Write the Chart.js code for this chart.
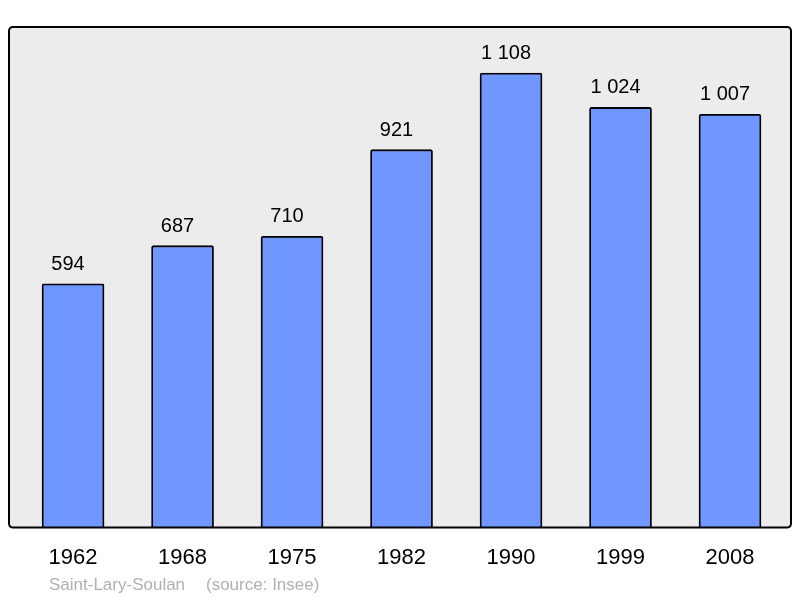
<!DOCTYPE html>
<html>
<head>
<meta charset="utf-8">
<script src="https://cdn.jsdelivr.net/npm/chart.js@4"></script>
<style>
  html, body { margin: 0; padding: 0; background: #fff; }
  #wrap { width: 800px; height: 598px; }
</style>
</head>
<body>
<div id="wrap"><canvas id="popChart" width="800" height="598"></canvas></div>
<script>
const years = ["1962", "1968", "1975", "1982", "1990", "1999", "2008"];
const population = [594, 687, 710, 921, 1108, 1024, 1007];
const commune = "Saint-Lary-Soulan";
const source = "(source: Insee)";

const fmt = (v) => String(v).replace(/\B(?=(\d{3})+(?!\d))/g, " ");

// grey box behind the bars, black frame drawn over them
const plotFrame = {
  id: "plotFrame",
  beforeDatasetsDraw(chart) {
    const { ctx, chartArea: a } = chart;
    ctx.save();
    ctx.fillStyle = "#ececec";
    ctx.beginPath();
    ctx.roundRect(a.left, a.top, a.right - a.left, a.bottom - a.top, 4);
    ctx.fill();
    ctx.restore();
  },
  afterDatasetsDraw(chart) {
    const { ctx, chartArea: a } = chart;
    ctx.save();
    ctx.strokeStyle = "#000";
    ctx.lineWidth = 2;
    ctx.beginPath();
    ctx.roundRect(a.left, a.top, a.right - a.left, a.bottom - a.top, 4);
    ctx.stroke();

    // value labels above bars (sit a little left of centre, as in the original)
    const meta = chart.getDatasetMeta(0);
    ctx.fillStyle = "#000";
    ctx.font = "20px 'Liberation Sans', Arial, sans-serif";
    ctx.textAlign = "center";
    ctx.textBaseline = "alphabetic";
    meta.data.forEach((bar, i) => {
      ctx.fillText(fmt(population[i]), bar.x - 5, bar.y - 14);
    });

    // footer
    ctx.fillStyle = "#b0b0b0";
    ctx.font = "17px 'Liberation Sans', Arial, sans-serif";
    ctx.textAlign = "left";
    ctx.fillText(commune, 49, 590);
    ctx.fillText(source, 206, 590);
    ctx.restore();
  },
};

new Chart(document.getElementById("popChart"), {
  type: "bar",
  data: {
    datasets: [
      {
        data: population.map((v, i) => ({ x: i, y: v })),
        backgroundColor: "#7096ff",
        borderColor: "#000",
        borderWidth: 1.8,
        borderRadius: 2,
        borderSkipped: "bottom",
        barThickness: 62,
      },
    ],
  },
  options: {
    responsive: false,
    animation: false,
    layout: { padding: { left: 9, right: 9, top: 27, bottom: 10 } },
    plugins: { legend: { display: false }, tooltip: { enabled: false } },
    scales: {
      x: {
        type: "linear",
        offset: false,
        min: -0.585,
        max: 6.557,
        grid: { display: false, drawTicks: false, offset: false },
        border: { display: false },
        afterBuildTicks: (axis) => {
          axis.ticks = years.map((_, i) => ({ value: i }));
        },
        ticks: {
          padding: 17,
          color: "#000",
          font: { family: "'Liberation Sans', Arial, sans-serif", size: 22 },
          maxRotation: 0,
          autoSkip: false,
          callback: (v) => years[v],
        },
      },
      y: {
        display: false,
        min: 0,
        max: 1220,
      },
    },
  },
  plugins: [plotFrame],
});
</script>
</body>
</html>
